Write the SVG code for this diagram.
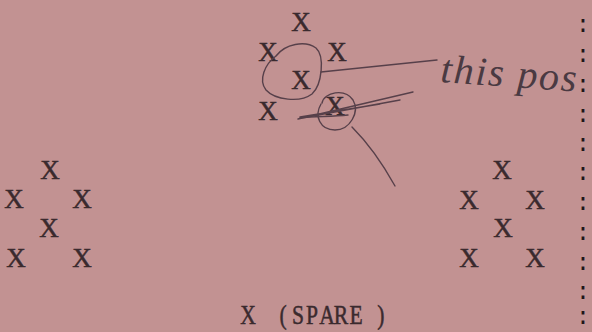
<svg xmlns="http://www.w3.org/2000/svg" width="592" height="332" viewBox="0 0 592 332">
<style>
.x{font-family:"Liberation Serif",serif;font-size:27px;fill:#3a2a2e;stroke:#3a2a2e;stroke-width:0.5;text-anchor:middle}
.c{font-family:"Liberation Mono",monospace;font-size:24px;fill:#1e1618;text-anchor:middle}
.pen{fill:none;stroke:#57404a;stroke-width:1.4;stroke-linecap:round}
.hand{font-family:"Liberation Serif",serif;font-style:italic;font-size:40px;fill:#4a3a42}
</style>
<rect width="592" height="332" fill="#c29292"/>
<g id="top-cluster">
<text class="x" x="301" y="31">X</text>
<text class="x" x="268" y="61">X</text>
<text class="x" x="337" y="61">X</text>
<text class="x" x="301" y="89">X</text>
<text class="x" x="268" y="120">X</text>
<text class="x" x="335" y="115">X</text>
</g>
<g id="left-cluster">
<text class="x" x="50" y="179">X</text>
<text class="x" x="14" y="208">X</text>
<text class="x" x="82" y="208">X</text>
<text class="x" x="49" y="237">X</text>
<text class="x" x="16" y="267">X</text>
<text class="x" x="82" y="267">X</text>
</g>
<g id="right-cluster">
<text class="x" x="502" y="179">X</text>
<text class="x" x="469" y="209">X</text>
<text class="x" x="535" y="209">X</text>
<text class="x" x="503" y="237">X</text>
<text class="x" x="469" y="267">X</text>
<text class="x" x="535" y="267">X</text>
</g>
<g id="spare">
<text class="x" transform="scale(0.8 1)" x="310 331 354 372.5 390 408.7 426.2 445 476" y="324">X (SPARE)</text>
</g>
<g id="margin-colons">
<text class="c" x="583" y="32">:</text>
<text class="c" x="583" y="62">:</text>
<text class="c" x="583" y="92">:</text>
<text class="c" x="583" y="122">:</text>
<text class="c" x="583" y="151">:</text>
<text class="c" x="583" y="180">:</text>
<text class="c" x="583" y="210">:</text>
<text class="c" x="583" y="240">:</text>
<text class="c" x="583" y="270">:</text>
<text class="c" x="583" y="299">:</text>
<text class="c" x="583" y="324">:</text>
</g>
<g id="annotations">
<path class="pen" d="M276,56 C285,44 305,40 316,48 C325,56 322,85 312,94 C300,103 275,100 266,90 C258,80 265,64 276,56"/>
<path class="pen" d="M321,72 L437,60" stroke-width="1.8"/>
<path class="pen" d="M322,103 C324,92 345,88 353,100 C360,112 350,130 335,130 C320,130 314,116 321,104"/>
<path class="pen" d="M298,119 L413,92 M302,118 L400,100 M300,117 L380,104" stroke-width="1"/>
<path class="pen" d="M300,118 C315,116 330,117 348,115" stroke="#4f6e9e" stroke-width="2.2"/>
<path class="pen" d="M352,127 Q375,150 395,186" stroke-width="1"/>
<text class="hand" x="440" y="82" transform="rotate(4 440 82)" textLength="136">this pos</text>
</g>
</svg>
